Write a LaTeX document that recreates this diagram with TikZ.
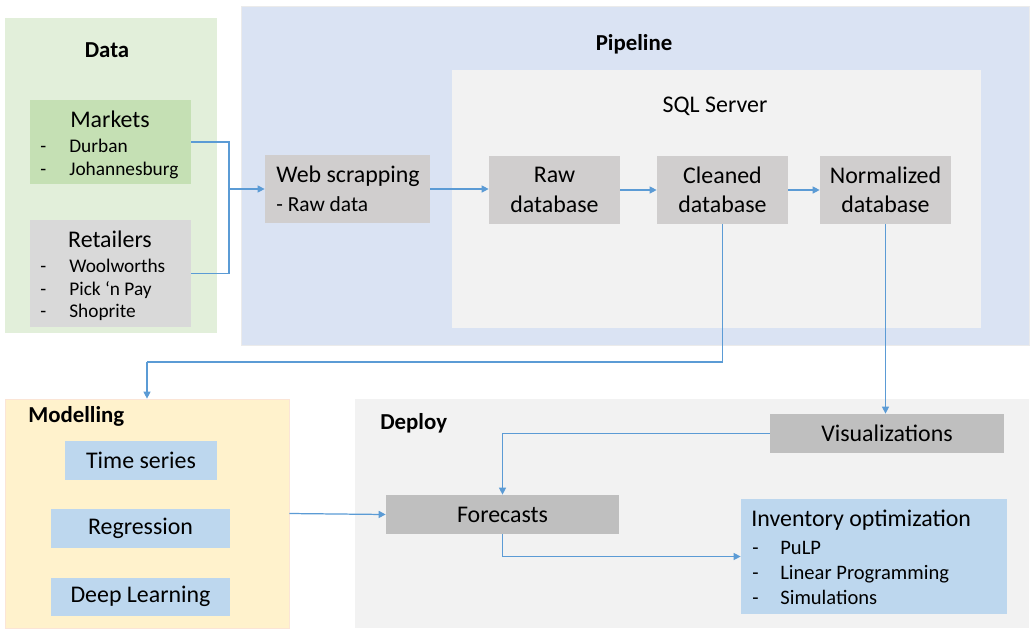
\documentclass[tikz,border=0pt]{standalone}
\usepackage{fontspec}
\setmainfont{Carlito}
\usetikzlibrary{arrows.meta,positioning,fit}
\definecolor{flowblue} {RGB}{ 91,155,213}
\definecolor{datagreen}{RGB}{226,239,218}
\definecolor{mktgreen} {RGB}{197,224,180}
\definecolor{pipeblue} {RGB}{218,227,243}
\definecolor{paleblue} {RGB}{189,215,238}
\definecolor{modyellow}{RGB}{255,242,204}
\definecolor{modedge}  {RGB}{251,229,214}
\definecolor{sqlgray}  {RGB}{242,242,242}
\definecolor{dbgray}   {RGB}{208,206,206}
\definecolor{retgray}  {RGB}{217,217,217}
\definecolor{depgray}  {RGB}{191,191,191}
\tikzset{
  area/.style={inner sep=0pt,draw=none},
  box/.style={inner sep=0pt,draw=none,align=center,
    font=\fontsize{13.6}{16.8}\selectfont},
  head/.style={font=\fontsize{13}{15}\selectfont\bfseries,anchor=mid,
    inner sep=0pt,yshift=-0.06cm},
  big/.style={font=\fontsize{13.6}{16}\selectfont,inner sep=0pt,yshift=-0.06cm},
  small/.style={font=\fontsize{11}{13}\selectfont,inner sep=0pt,
    anchor=mid west,yshift=-0.06cm},
  line/.style={draw=flowblue,line width=0.7pt},
  arr/.style={line,-{Triangle[length=4pt,width=4pt]}},
}
\begin{document}
\begin{tikzpicture}[x=0.02cm,y=-0.02cm]
  \useasboundingbox (0,0) rectangle (1031,633);

  % background areas
  \node[area,fill=datagreen,fit={(5,18) (217,333)}](data){};
  \node[area,fill=pipeblue,draw=black!8,fit={(241,6) (1029,345)}](pipe){};
  \node[area,fill=sqlgray,fit={(452,70) (981,328)}](sql){};
  \node[area,fill=modyellow,draw=modedge,fit={(5,399) (289,628)}](model){};
  \node[area,fill=sqlgray,fit={(355,399) (1029,628)}](deploy){};

  \node[head] at (107,50){Data};
  \node[head] at (634,43){Pipeline};
  \node[big,anchor=mid] at (715,105){SQL Server};
  \node[head,anchor=mid west] at (28,415){Modelling};
  \node[head,anchor=mid west] at (380,422){Deploy};

  % data sources
  \node[area,fill=mktgreen,fit={(30,100) (191,184)}](mkt){};
  \node[big,anchor=mid] at (110,120){Markets};
  \node[small] at (40,145){-};  \node[small] at (69,145){Durban};
  \node[small] at (40,168){-};  \node[small] at (69,168){Johannesburg};

  \node[area,fill=retgray,fit={(30,220) (191,327)}](ret){};
  \node[big,anchor=mid] at (110,240){Retailers};
  \node[small] at (40,265){-};  \node[small] at (69,265){Woolworths};
  \node[small] at (40,288){-};  \node[small] at (69,288){Pick ‘n Pay};
  \node[small] at (40,310){-};  \node[small] at (69,310){Shoprite};

  % pipeline
  \node[area,fill=dbgray,fit={(265,155) (430,223)}](web){};
  \node[big,anchor=mid west] at (276,175){Web scrapping};
  \node[small,font=\fontsize{12.2}{14}\selectfont] at (276,204){- Raw data};

  \node[box,fill=dbgray,minimum width=2.62cm,minimum height=1.36cm] (raw) at (554.5,190){Raw\\database};
  \node[box,fill=dbgray,minimum width=2.62cm,minimum height=1.36cm] (clean) at (722.5,190){Cleaned\\database};
  \node[box,fill=dbgray,minimum width=2.62cm,minimum height=1.36cm] (norm) at (885.5,190){Normalized\\database};

  % modelling
  \node[box,fill=paleblue,minimum width=3.04cm,minimum height=0.78cm] (ts) at (141,460){Time series};
  \node[box,fill=paleblue,minimum width=3.58cm,minimum height=0.78cm] (reg) at (140.5,528){Regression};
  \node[box,fill=paleblue,minimum width=3.58cm,minimum height=0.76cm] (dl) at (140.5,596.5){Deep Learning};

  % deploy
  \node[box,fill=depgray,minimum width=4.68cm,minimum height=0.78cm] (vis) at (887,433.5){Visualizations};
  \node[box,fill=depgray,minimum width=4.66cm,minimum height=0.78cm] (fore) at (502.5,514.5){Forecasts};
  \node[area,fill=paleblue,fit={(741,499) (1007,614)}](inv){};
  \node[big,anchor=mid west] at (751,519){Inventory optimization};
  \node[small,font=\fontsize{11.7}{14}\selectfont] at (752,547){-};
  \node[small,font=\fontsize{11.7}{14}\selectfont] at (780,547){PuLP};
  \node[small,font=\fontsize{11.7}{14}\selectfont] at (752,572){-};
  \node[small,font=\fontsize{11.7}{14}\selectfont] at (780,572){Linear Programming};
  \node[small,font=\fontsize{11.7}{14}\selectfont] at (752,597){-};
  \node[small,font=\fontsize{11.7}{14}\selectfont] at (780,597){Simulations};

  % connectors
  \coordinate (join) at (229,189);
  \coordinate (drop) at (147,362);
  \draw[line](mkt.east) -| (join);
  \draw[line](ret.east) -| (join);
  \draw[arr](join) -- (web.west);
  \draw[arr](web.east) -- (web.east -| raw.west);
  \draw[arr](raw.east) -- (clean.west);
  \draw[arr](clean.east) -- (norm.west);
  \draw[line](clean.south) |- (drop);
  \draw[arr](drop) -- (model.north);
  \draw[arr](norm.south) -- (norm.south |- vis.north);
  \draw[arr](model.east) -- (fore.west);
  \draw[arr](vis.west) -| (fore.north);
  \draw[arr](fore.south) |- (inv.west);
\end{tikzpicture}
\end{document}
